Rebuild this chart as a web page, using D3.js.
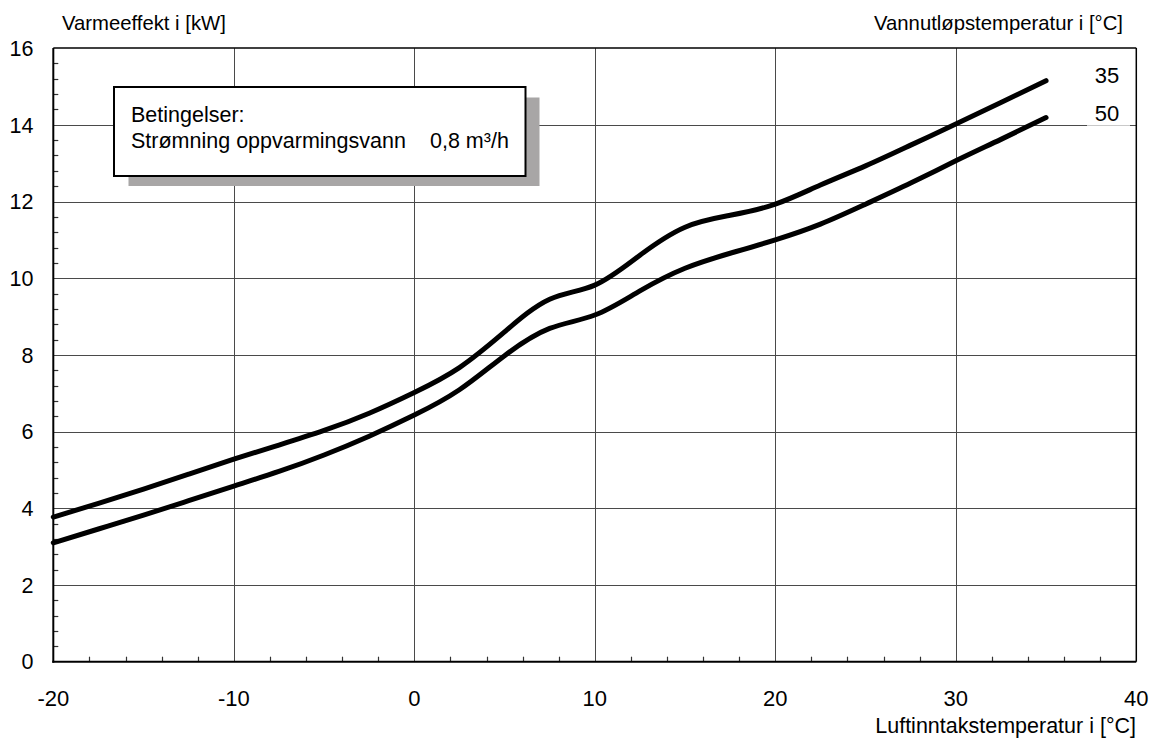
<!DOCTYPE html>
<html>
<head>
<meta charset="utf-8">
<script src="https://cdn.jsdelivr.net/npm/d3@7"></script>
<style>
    body { margin: 0; background: #fff; }
    text { font-family: Arial, "Liberation Sans", sans-serif; fill: #000; }
</style>
</head>
<body>
<svg id="chart" width="1158" height="747"></svg>
<script>
// air intake temperature (x) and heating output in kW (y)
var airTemp = [-20, -17.5, -15, -12.5, -10, -7.5, -5, -2.5, 0, 2.5, 5, 7.5, 10, 12.5, 15, 17.5, 20, 22.5, 25, 27.5, 30, 32.5, 35];
var power35 = [3.77, 4.13, 4.5, 4.89, 5.28, 5.65, 6.03, 6.48, 7.02, 7.67, 8.6, 9.45, 9.82, 10.6, 11.33, 11.64, 11.93, 12.43, 12.93, 13.47, 14.02, 14.58, 15.15];
var power50 = [3.1, 3.46, 3.82, 4.2, 4.58, 4.96, 5.39, 5.88, 6.43, 7.09, 7.98, 8.69, 9.04, 9.67, 10.26, 10.65, 11.0, 11.41, 11.93, 12.48, 13.06, 13.62, 14.19];

var seriesNames = ["35", "50"];

var xTicks = [-20, -10, 0, 10, 20, 30, 40];
var yTicks = [0, 2, 4, 6, 8, 10, 12, 14, 16];

var yTitle = "Varmeeffekt i [kW]";
var rightTitle = "Vannutløpstemperatur i [°C]";
var xTitle = "Luftinntakstemperatur i [°C]";
var boxLines = ["Betingelser:", "Strømning oppvarmingsvann"];
var boxValue = "0,8 m³/h";

const svg = d3.select("#chart");

var x = d3.scaleLinear().domain([-20, 40]).range([53.3, 1136.3]);
var y = d3.scaleLinear().domain([0, 16]).range([661.7, 48.1]);

function zip(xs, ys)
{
    return xs.map((d, i) => [d, ys[i]]);
}

var series = [zip(airTemp, power35), zip(airTemp, power50)];

function crisp(v)
{
    return Math.round(v) + 0.5;
}

// grid
const grid = svg.append("g").attr("stroke", "#4a4a4a").attr("stroke-width", 1);

grid.selectAll("line.v")
    .data(xTicks.slice(1, -1))
    .enter().append("line")
    .attr("x1", d => crisp(x(d)))
    .attr("x2", d => crisp(x(d)))
    .attr("y1", y(16))
    .attr("y2", y(0));

grid.selectAll("line.h")
    .data(yTicks.slice(1, -1))
    .enter().append("line")
    .attr("x1", x(-20))
    .attr("x2", x(40))
    .attr("y1", d => crisp(y(d)))
    .attr("y2", d => crisp(y(d)));

// minor ticks
var xMinor = d3.range(-18, 40, 2).filter(d => d % 10 != 0);
var yMinor = d3.range(1, 40).map(d => d * 0.4).filter(d => Math.abs(d / 2 - Math.round(d / 2)) > 0.01);

svg.append("g").attr("stroke", "#333").attr("stroke-width", 1.2)
    .selectAll("line")
    .data(xMinor)
    .enter().append("line")
    .attr("x1", d => crisp(x(d)))
    .attr("x2", d => crisp(x(d)))
    .attr("y1", y(0))
    .attr("y2", y(0) - 5);

svg.append("g").attr("stroke", "#333").attr("stroke-width", 1.2)
    .selectAll("line")
    .data(yMinor)
    .enter().append("line")
    .attr("x1", x(-20))
    .attr("x2", x(-20) + 5)
    .attr("y1", d => crisp(y(d)))
    .attr("y2", d => crisp(y(d)));

// frame
svg.append("line").attr("x1", x(-20)).attr("x2", x(40)).attr("y1", y(16)).attr("y2", y(16))
    .attr("stroke", "#000").attr("stroke-width", 1.5);
svg.append("line").attr("x1", x(40)).attr("x2", x(40)).attr("y1", y(16)).attr("y2", y(0))
    .attr("stroke", "#000").attr("stroke-width", 1.5);
svg.append("line").attr("x1", x(-20)).attr("x2", x(-20)).attr("y1", y(16)).attr("y2", y(0) + 1)
    .attr("stroke", "#000").attr("stroke-width", 2);
svg.append("line").attr("x1", x(-20) - 1).attr("x2", x(40)).attr("y1", y(0)).attr("y2", y(0))
    .attr("stroke", "#000").attr("stroke-width", 2);

// tick labels
svg.append("g").attr("font-size", 22).attr("text-anchor", "middle")
    .selectAll("text")
    .data(xTicks)
    .enter().append("text")
    .attr("x", d => x(d))
    .attr("y", 705.5)
    .text(d => d);

svg.append("g").attr("font-size", 21.5).attr("text-anchor", "end")
    .selectAll("text")
    .data(yTicks)
    .enter().append("text")
    .attr("x", 33.5)
    .attr("y", d => y(d))
    .attr("dy", "0.36em")
    .text(d => d);

// titles
svg.append("text").attr("x", 62).attr("y", 30).attr("font-size", 20.3).text(yTitle);
svg.append("text").attr("x", 1123).attr("y", 30).attr("font-size", 20.3).attr("text-anchor", "end").text(rightTitle);
svg.append("text").attr("x", 1136).attr("y", 733).attr("font-size", 21.5).attr("text-anchor", "end").text(xTitle);

// conditions box with drop shadow
svg.append("rect").attr("x", 128.5).attr("y", 97.5).attr("width", 411).attr("height", 88.5).attr("fill", "#a8a6a6");
svg.append("rect").attr("x", 114).attr("y", 87).attr("width", 411.5).attr("height", 89)
    .attr("fill", "#fff").attr("stroke", "#000").attr("stroke-width", 2);
svg.append("g").attr("font-size", 21.5)
    .selectAll("text")
    .data(boxLines)
    .enter().append("text")
    .attr("x", 131)
    .attr("y", (d, i) => 121.5 + i * 26)
    .text(d => d);
svg.append("text").attr("x", 430).attr("y", 147.5).attr("font-size", 21.5).text(boxValue);

// curves
var line = d3.line()
    .curve(d3.curveNatural)
    .x(d => x(d[0]))
    .y(d => y(d[1]));

svg.append("g")
    .attr("fill", "none")
    .attr("stroke", "#000")
    .attr("stroke-width", 5)
    .attr("stroke-linecap", "round")
    .selectAll("path")
    .data(series)
    .enter().append("path")
    .attr("d", d => line(d));

// curve labels (white behind, cutting the 14 grid line)
var labelY = [83, 120.7];
const labels = svg.append("g").selectAll("g")
    .data(seriesNames)
    .enter().append("g");

labels.append("rect")
    .attr("x", 1087)
    .attr("y", (d, i) => labelY[i] - 19)
    .attr("width", 43)
    .attr("height", 24)
    .attr("fill", "#fff");

labels.append("text")
    .attr("x", 1107)
    .attr("y", (d, i) => labelY[i])
    .attr("font-size", 22)
    .attr("text-anchor", "middle")
    .text(d => d);
</script>
</body>
</html>
